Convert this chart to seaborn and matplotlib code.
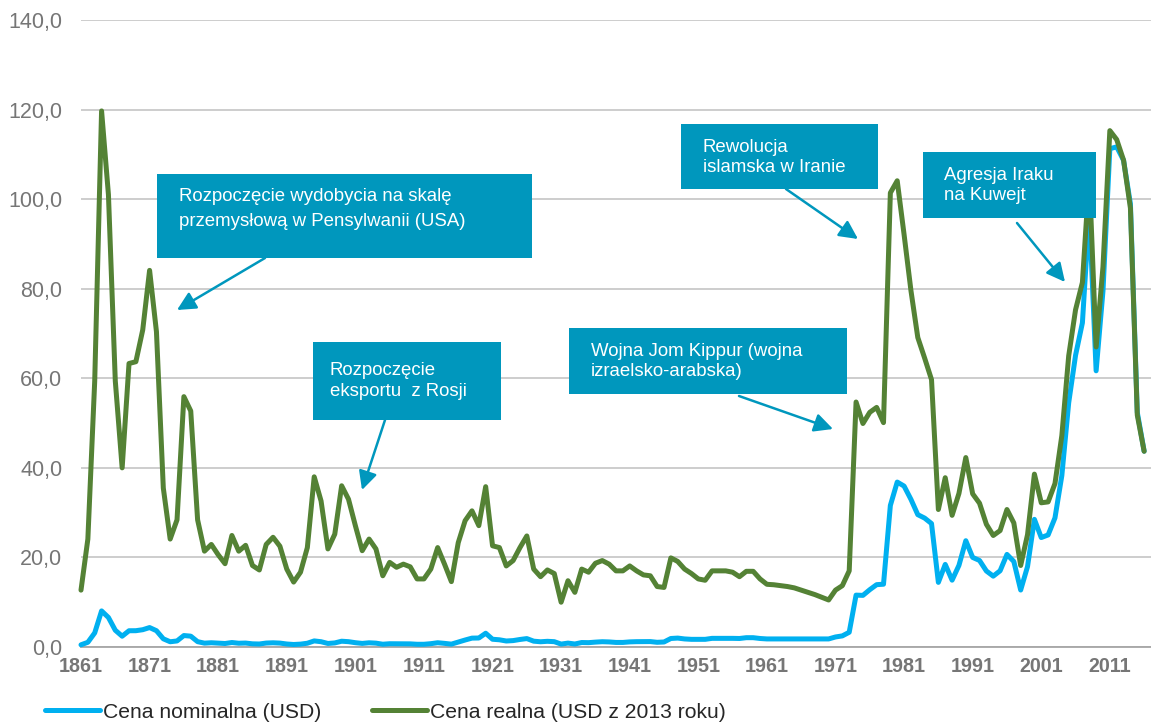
import matplotlib
matplotlib.use("Agg")
import matplotlib.pyplot as plt
import seaborn as sns
import pandas as pd
from matplotlib.patches import Rectangle, FancyArrowPatch

# Ceny ropy naftowej 1861-2016
years = list(range(1861, 2017))

nominal = [
    0.49, 1.05, 3.15, 8.06, 6.59, 3.74, 2.41, 3.63, 3.64, 3.86,   # 1861-1870
    4.34, 3.64, 1.83, 1.17, 1.35, 2.56, 2.42, 1.19, 0.86, 0.95,   # 1871-1880
    0.86, 0.78, 1.00, 0.84, 0.88, 0.71, 0.67, 0.88, 0.94, 0.87,   # 1881-1890
    0.67, 0.56, 0.64, 0.84, 1.36, 1.18, 0.79, 0.91, 1.29, 1.19,   # 1891-1900
    0.96, 0.80, 0.94, 0.86, 0.62, 0.73, 0.72, 0.72, 0.70, 0.61,   # 1901-1910
    0.61, 0.74, 0.95, 0.81, 0.64, 1.10, 1.56, 1.98, 2.01, 3.07,   # 1911-1920
    1.73, 1.61, 1.34, 1.43, 1.68, 1.88, 1.30, 1.17, 1.27, 1.19,   # 1921-1930
    0.65, 0.87, 0.67, 1.00, 0.97, 1.09, 1.18, 1.13, 1.02, 1.02,   # 1931-1940
    1.14, 1.19, 1.20, 1.21, 1.05, 1.12, 1.90, 1.99, 1.80, 1.71,   # 1941-1950
    1.71, 1.71, 1.93, 1.93, 1.93, 1.93, 1.90, 2.08, 2.08, 1.90,   # 1951-1960
    1.80, 1.80, 1.80, 1.80, 1.80, 1.80, 1.80, 1.80, 1.80, 1.80,   # 1961-1970
    2.24, 2.48, 3.29, 11.58, 11.53, 12.80, 13.92, 14.02, 31.61, 36.83,  # 1971-1980
    35.93, 32.97, 29.55, 28.78, 27.56, 14.43, 18.44, 14.92, 18.23, 23.73,  # 1981-1990
    20.00, 19.32, 16.97, 15.82, 17.02, 20.67, 19.09, 12.72, 17.97, 28.50,  # 1991-2000
    24.44, 25.02, 28.83, 38.27, 54.52, 65.14, 72.39, 97.26, 61.67, 79.50,  # 2001-2010
    111.26, 111.67, 108.66, 98.95, 52.39, 43.73,                           # 2011-2016
]

real = [
    12.7, 24.1, 59.4, 119.7, 101.0, 59.4, 40.0, 63.3, 63.7, 70.8,   # 1861-1870
    84.1, 70.4, 35.5, 24.1, 28.4, 55.9, 52.7, 28.4, 21.4, 22.9,     # 1871-1880
    20.6, 18.6, 24.9, 21.4, 22.7, 18.2, 17.2, 22.9, 24.5, 22.5,     # 1881-1890
    17.4, 14.5, 16.7, 22.2, 38.0, 32.6, 21.9, 25.2, 36.0, 33.0,     # 1891-1900
    27.1, 21.5, 24.1, 21.9, 15.9, 18.9, 17.8, 18.5, 17.9, 15.2,     # 1901-1910
    15.2, 17.4, 22.2, 18.5, 14.6, 23.3, 28.2, 30.4, 27.1, 35.8,     # 1911-1920
    22.6, 22.2, 18.1, 19.3, 22.2, 24.8, 17.4, 15.7, 17.2, 16.4,     # 1921-1930
    10.0, 14.8, 12.2, 17.4, 16.7, 18.7, 19.3, 18.5, 17.0, 17.0,     # 1931-1940
    18.1, 17.0, 16.1, 15.9, 13.5, 13.3, 19.9, 19.1, 17.4, 16.4,     # 1941-1950
    15.2, 14.9, 17.0, 17.0, 17.0, 16.7, 15.7, 16.9, 16.9, 15.2,     # 1951-1960
    14.0, 13.9, 13.7, 13.5, 13.2, 12.7, 12.2, 11.7, 11.1, 10.5,     # 1961-1970
    12.7, 13.7, 17.0, 54.7, 49.9, 52.4, 53.5, 50.1, 101.4, 104.1,   # 1971-1980
    92.1, 79.6, 69.1, 64.5, 59.7, 30.7, 37.8, 29.4, 34.3, 42.3,     # 1981-1990
    34.2, 32.1, 27.4, 24.9, 26.0, 30.7, 27.7, 18.2, 25.1, 38.6,     # 1991-2000
    32.2, 32.4, 36.5, 47.2, 65.0, 75.3, 81.4, 105.3, 67.0, 84.9,    # 2001-2010
    115.3, 113.3, 108.7, 98.0, 51.8, 43.7,                          # 2011-2016
]

label_nominal = "Cena nominalna (USD)"
label_real = "Cena realna (USD z 2013 roku)"

# tekst ramek: linie, prostokat (px), x tekstu, y linii, strzalka start -> koniec (px)
notes = [
    (["Rozpoczęcie wydobycia na skalę", "przemysłową w Pensylwanii (USA)"],
     (157, 174, 532, 258), 179, (197, 222), (265, 258), (177, 310)),
    (["Rozpoczęcie", "eksportu  z Rosji"],
     (313, 342, 501, 420), 330, (371, 391), (385, 420), (362, 490)),
    (["Wojna Jom Kippur (wojna", "izraelsko-arabska)"],
     (569, 328, 847, 394), 591, (351, 372), (739, 396), (833, 429)),
    (["Rewolucja", "islamska w Iranie"],
     (681, 124, 878, 189), 703, (147, 168), (786, 189), (858, 239)),
    (["Agresja Iraku", "na Kuwejt"],
     (923, 152, 1096, 218), 944, (175, 196), (1017, 223), (1065, 282)),
]

W, H = 1151, 723
BOX = "#0097BD"
GREY = "#767676"


def fx(px):
    return px / W


def fy(py):
    return 1 - py / H


df = pd.DataFrame({"Rok": years, "nominal": nominal, "real": real})

sns.set_style("white")
plt.rcParams["font.family"] = ["Liberation Sans", "DejaVu Sans"]

fig = plt.figure(figsize=(W / 100, H / 100), dpi=100)
ax = fig.add_axes([fx(81), fy(647), fx(1151) - fx(81), fy(20) - fy(647)])

sns.lineplot(data=df, x="Rok", y="nominal", ax=ax, color="#00B0F0", lw=3.6,
             label=label_nominal, zorder=3, solid_joinstyle="round",
             solid_capstyle="round", clip_on=False)
sns.lineplot(data=df, x="Rok", y="real", ax=ax, color="#548235", lw=3.6,
             label=label_real, zorder=4, solid_joinstyle="round",
             solid_capstyle="round", clip_on=False)

ax.set_xlim(1861, 2017)
ax.set_ylim(0, 140)
ticks = list(range(1861, 2017, 5))
ax.set_xticks(ticks)
ax.set_xticklabels([str(t) if (t - 1861) % 10 == 0 else "" for t in ticks])
for t in ax.get_xticklabels():
    t.set_fontweight("bold")
yt = list(range(0, 141, 20))
ax.set_yticks(yt)
ax.set_yticklabels([f"{v},0" for v in yt])
ax.tick_params(axis="x", length=4.5, width=1.2, color="#A6A6A6", direction="out",
               pad=3, labelsize=14.2, labelcolor=GREY)
ax.tick_params(axis="y", length=0, pad=13.5, labelsize=15.5, labelcolor=GREY)
ax.set_xlabel("")
ax.set_ylabel("")
ax.grid(axis="y", color="#C9C9C9", lw=1.3)
ax.set_axisbelow(True)
for s in ["left", "right", "top"]:
    ax.spines[s].set_visible(False)
ax.spines["bottom"].set_color("#A6A6A6")
ax.spines["bottom"].set_linewidth(1.3)

handles, labels = ax.get_legend_handles_labels()
ax.get_legend().remove()
fig.legend(handles, labels, loc="center left", bbox_to_anchor=(fx(45), fy(712)),
           ncol=2, frameon=False, fontsize=15.2, handlelength=2.6,
           handletextpad=0.15, columnspacing=2.4, borderpad=0, borderaxespad=0)

for lines, (x0, y0, x1, y1), tx, tys, start, end in notes:
    rect = Rectangle((fx(x0), fy(y1)), fx(x1) - fx(x0), fy(y0) - fy(y1),
                     transform=fig.transFigure, fc=BOX, ec="none", zorder=5)
    fig.add_artist(rect)
    for line, ty in zip(lines, tys):
        fig.text(fx(tx), fy(ty), line, color="white", fontsize=13.4,
                 ha="left", va="center", zorder=6)
    arr = FancyArrowPatch((fx(start[0]), fy(start[1])), (fx(end[0]), fy(end[1])),
                          transform=fig.transFigure, arrowstyle="-|>",
                          mutation_scale=28, lw=1.8, color=BOX, zorder=5,
                          shrinkA=0, shrinkB=0)
    fig.add_artist(arr)

fig.savefig("out.png", dpi=100)
